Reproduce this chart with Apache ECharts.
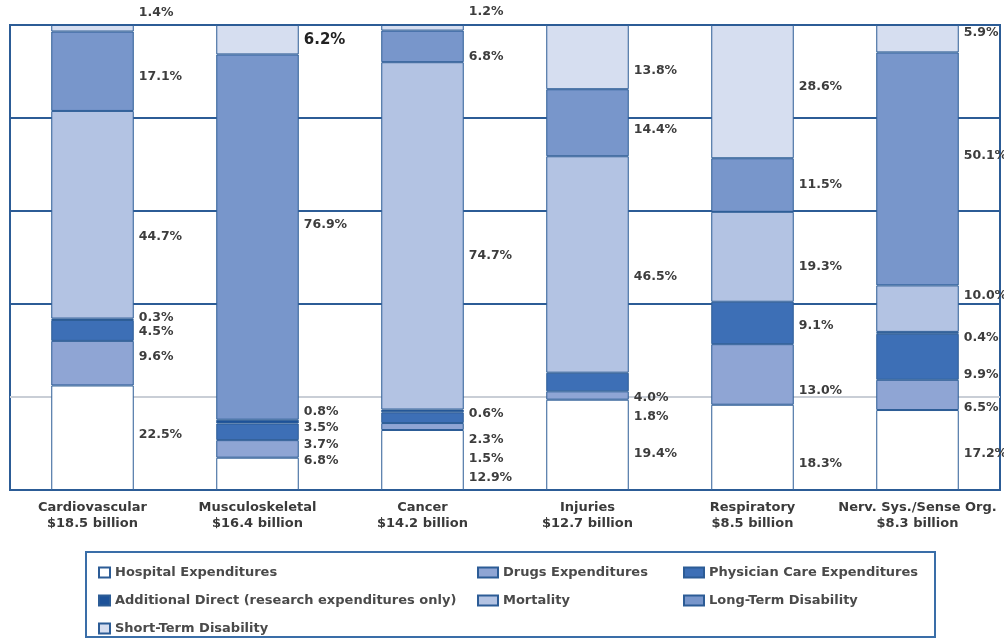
<!DOCTYPE html>
<html>
<head>
<meta charset="utf-8">
<script src="https://cdn.jsdelivr.net/npm/echarts@6/dist/echarts.min.js"></script>
<style>
  html, body { margin: 0; padding: 0; background: #ffffff; }
  #chart { width: 1004px; height: 640px; }
</style>
</head>
<body>
<div id="chart"></div>
<script>
// ---- data ----
const categories = ['Cardiovascular', 'Musculoskeletal', 'Cancer', 'Injuries', 'Respiratory', 'Nerv. Sys./Sense Org.'];
const costLabels = ['$18.5 billion', '$16.4 billion', '$14.2 billion', '$12.7 billion', '$8.5 billion', '$8.3 billion'];
const yTicks = [0, 20, 40, 60, 80, 100];

const hospital   = [22.5, 6.8, 12.9, 19.4, 18.3, 17.2];
const drugs      = [9.6, 3.7, 1.5, 1.8, 13.0, 6.5];
const physician  = [4.5, 3.5, 2.3, 4.0, 9.1, 9.9];
const additional = [0.3, 0.8, 0.6, null, null, 0.4];
const mortality  = [44.7, null, 74.7, 46.5, 19.3, 10.0];
const longTerm   = [17.1, 76.9, 6.8, 14.4, 11.5, 50.1];
const shortTerm  = [1.4, 6.2, 1.2, 13.8, 28.6, 5.9];

// ---- label vertical nudges (layout only) ----
const labelNudge = {
  hospital:   [-3, -13, 18, 9, 16, 4],
  drugs:      [-6, -4, 32, 21, 16, 13],
  physician:  [1, -4, 22, 16, 3, 18],
  additional: [-2, -10, 3, 0, 0, 5],
  mortality:  [22, 0, 20, 12, 10, -13],
  longTerm:   [6, -12, 10, 7, 0, -13],
  shortTerm:  [-16, 0, -16, 14, -5, -6]
};

const seriesDefs = [
  { name: 'Hospital Expenditures', values: hospital, color: '#ffffff', nudge: labelNudge.hospital },
  { name: 'Drugs Expenditures', values: drugs, color: '#8fa5d4', nudge: labelNudge.drugs },
  { name: 'Physician Care Expenditures', values: physician, color: '#3d6fb6', nudge: labelNudge.physician },
  { name: 'Additional Direct (research expenditures only)', values: additional, color: '#1d5299', nudge: labelNudge.additional },
  { name: 'Mortality', values: mortality, color: '#b3c3e3', nudge: labelNudge.mortality },
  { name: 'Long-Term Disability', values: longTerm, color: '#7896cb', nudge: labelNudge.longTerm },
  { name: 'Short-Term Disability', values: shortTerm, color: '#d6def0', nudge: labelNudge.shortTerm }
];

// column totals for 100% stacking
const totals = categories.map((_, i) => seriesDefs.reduce((s, d) => s + (d.values[i] || 0), 0));

const FONT = 'DejaVu Sans';
const BLUE = '#2c5c96';

const series = seriesDefs.map(def => ({
  name: def.name,
  type: 'bar',
  stack: 'total',
  barWidth: '50%',
  itemStyle: { color: def.color, borderColor: BLUE, borderWidth: 1 },
  label: {
    show: true,
    position: 'right',
    distance: 5,
    fontFamily: FONT,
    fontWeight: 'bold',
    fontSize: 12.5,
    color: '#3d3d3d',
    formatter: p => p.data.raw.toFixed(1) + '%'
  },
  data: def.values.map((v, i) => {
    if (v == null) return null;
    const item = {
      value: v / totals[i] * 100,
      raw: v,
      label: { offset: [0, def.nudge[i]] }
    };
    if (def.name === 'Short-Term Disability' && i === 1) {
      item.label.fontSize = 15;
      item.label.color = '#222';
    }
    return item;
  })
}));

const legendText = { fontFamily: FONT, fontWeight: 'bold', fontSize: 13, color: '#4a4a4a' };

const option = {
  animation: false,
  backgroundColor: '#ffffff',
  grid: {
    left: 10, right: 4, top: 25, bottom: 150,
    show: true, borderColor: BLUE, borderWidth: 2, backgroundColor: 'transparent'
  },
  xAxis: {
    type: 'category',
    data: categories,
    axisLine: { show: true, lineStyle: { color: BLUE, width: 2 } },
    axisTick: { show: false },
    axisLabel: {
      interval: 0,
      margin: 10,
      fontFamily: FONT,
      fontWeight: 'bold',
      fontSize: 13,
      lineHeight: 16,
      color: '#3a3a3a',
      formatter: (v, i) => v + '\n' + costLabels[i]
    }
  },
  yAxis: {
    type: 'value',
    min: yTicks[0],
    max: yTicks[yTicks.length - 1],
    interval: yTicks[1] - yTicks[0],
    axisLabel: { show: false },
    axisTick: { show: false },
    axisLine: { show: false },
    splitLine: {
      show: true,
      lineStyle: { color: [BLUE, '#c9ced6', BLUE, BLUE, BLUE, BLUE], width: 2 }
    }
  },
  legend: [
    {
      orient: 'vertical', left: 93, top: 561, itemWidth: 11, itemHeight: 10, itemGap: 15,
      icon: 'rect', textStyle: legendText,
      data: ['Hospital Expenditures', 'Additional Direct (research expenditures only)', 'Short-Term Disability']
    },
    {
      orient: 'vertical', left: 472, top: 561, itemWidth: 20, itemHeight: 10, itemGap: 15,
      icon: 'rect', textStyle: legendText,
      data: ['Drugs Expenditures', 'Mortality']
    },
    {
      orient: 'vertical', left: 678, top: 561, itemWidth: 20, itemHeight: 10, itemGap: 15,
      icon: 'rect', textStyle: legendText,
      data: ['Physician Care Expenditures', 'Long-Term Disability']
    }
  ],
  graphic: [
    {
      type: 'rect',
      shape: { x: 86, y: 552, width: 849, height: 85 },
      style: { fill: 'none', stroke: '#3a6ea8', lineWidth: 2 },
      z: 100
    }
  ],
  series: series
};

const chart = echarts.init(document.getElementById('chart'), null, { renderer: 'canvas' });
chart.setOption(option);
</script>
</body>
</html>
